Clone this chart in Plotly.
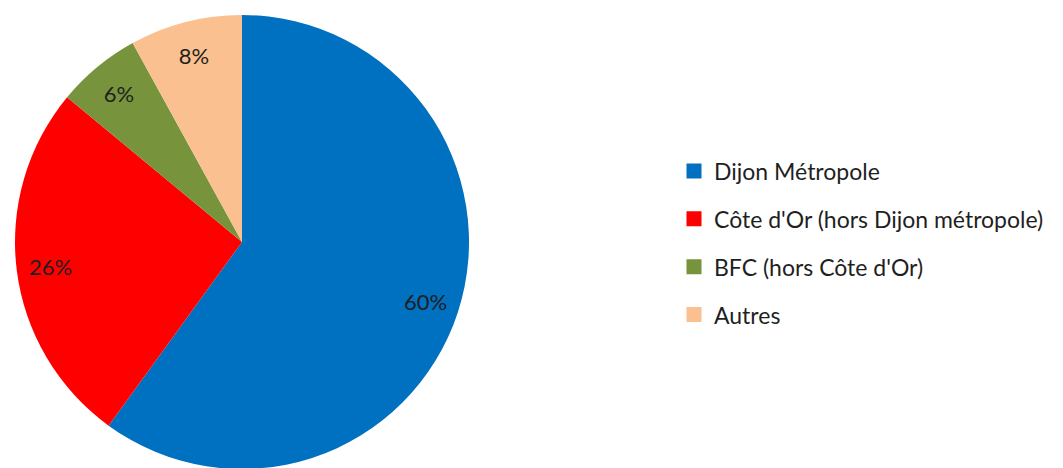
import plotly.graph_objects as go

labels = ["Dijon Métropole", "Côte d'Or (hors Dijon métropole)", "BFC (hors Côte d'Or)", "Autres"]
values = [60, 26, 6, 8]
colors = ["#0070C0", "#FF0000", "#77933C", "#FAC090"]

W, H = 1063, 468
dom_x = [7 / W, 461 / W]
dom_y = [7 / H, 461 / H]

fig = go.Figure()
fig.add_trace(go.Pie(
    labels=labels, values=values, sort=False, direction="clockwise", rotation=0,
    marker=dict(colors=colors, line=dict(width=0)),
    textinfo="none", showlegend=False, hoverinfo="label+percent",
    domain=dict(x=dom_x, y=dom_y),
))
# transparent ring that carries the data labels at ~0.85 radius
fig.add_trace(go.Pie(
    labels=labels, values=values, sort=False, direction="clockwise", rotation=0,
    hole=0.7,
    marker=dict(colors=["rgba(0,0,0,0)"] * len(values), line=dict(width=0)),
    texttemplate="%{value}%", textposition="inside", insidetextorientation="horizontal",
    textfont=dict(family="Lato", size=22, color="#1f1f1f"),
    showlegend=False, hoverinfo="skip",
    domain=dict(x=dom_x, y=dom_y),
))
# legend entries
for lab, col in zip(labels, colors):
    fig.add_trace(go.Scatter(
        x=[None], y=[None], mode="markers", name=lab, legendgroup=lab,
        marker=dict(symbol="square", size=15, color=col),
    ))

fig.update_layout(
    width=W, height=H, margin=dict(l=0, r=0, t=0, b=0),
    paper_bgcolor="white", plot_bgcolor="white",
    xaxis=dict(visible=False), yaxis=dict(visible=False),
    legend=dict(x=666 / W, xanchor="left", y=0.498, yanchor="middle",
                traceorder="grouped", tracegroupgap=15,
                font=dict(family="Lato", size=23, color="#1f1f1f"),
                itemwidth=30),
)
fig.write_html("out.html")
